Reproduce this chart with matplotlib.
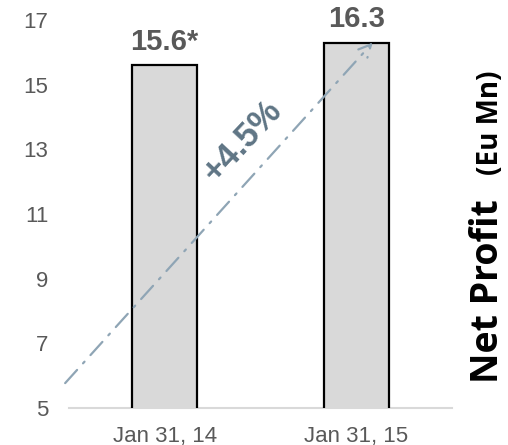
import matplotlib
matplotlib.use("Agg")
import matplotlib.pyplot as plt

# Net profit by fiscal year end
periods = ["Jan 31, 14", "Jan 31, 15"]
net_profit = [15.6, 16.3]
value_labels = ["15.6*", "16.3"]
growth_label = "+4.5%"
y_ticks = [5, 7, 9, 11, 13, 15, 17]

plt.rcParams["font.family"] = ["Liberation Sans", "DejaVu Sans"]

fig = plt.figure(figsize=(5.08, 4.45), dpi=100)
ax = fig.add_axes([0.1358, 0.0831, 0.754, 0.872])

x = range(len(periods))
ax.bar(x, net_profit, width=0.34, bottom=0, color="#d9d9d9",
       edgecolor="black", linewidth=1.6, zorder=2)

ax.set_xlim(-0.5, 1.5)
ax.set_ylim(5, 17)
ax.set_yticks(y_ticks)
ax.set_xticks(list(x))
ax.set_xticklabels(periods)
ax.tick_params(axis="y", length=0, pad=15, labelsize=16, labelcolor="#595959")
ax.tick_params(axis="x", length=0, pad=13, labelsize=16, labelcolor="#595959")

for side in ["top", "right", "left"]:
    ax.spines[side].set_visible(False)
ax.spines["bottom"].set_color("#d9d9d9")
ax.spines["bottom"].set_linewidth(1.5)
ax.spines["bottom"].set_zorder(1)

# value labels above bars
for xi, v, lab in zip(x, net_profit, value_labels):
    ax.annotate(lab, (xi, v), xytext=(0, 7), textcoords="offset points",
                ha="center", va="bottom", fontsize=21, fontweight="bold",
                color="#595959")

# growth arrow between the two years
ax.annotate("", xy=(1.086, net_profit[1]), xytext=(-0.52, 5.77),
            arrowprops=dict(arrowstyle="->", color="#8fa5b5", lw=1.6,
                            linestyle=(0, (8, 4, 1, 4)), mutation_scale=22,
                            shrinkA=0, shrinkB=0),
            annotation_clip=False, zorder=3)
ax.text(0.405, 13.25, growth_label, rotation=47, ha="center", va="center",
        fontsize=25, fontweight="bold", color="#5f7585", zorder=4)

# rotated axis title on the right
fig.text(498 / 508, 1 - 383 / 445, "Net Profit", rotation=90,
         rotation_mode="anchor", ha="left", va="baseline",
         fontsize=27, fontweight="bold", family=["Open Sans", "DejaVu Sans"],
         color="black")
fig.text(498 / 508, 1 - 175 / 445, "(Eu Mn)", rotation=90,
         rotation_mode="anchor", ha="left", va="baseline",
         fontsize=20, fontweight="bold", family=["Open Sans", "DejaVu Sans"],
         color="black")

fig.savefig("out.png", dpi=100)
